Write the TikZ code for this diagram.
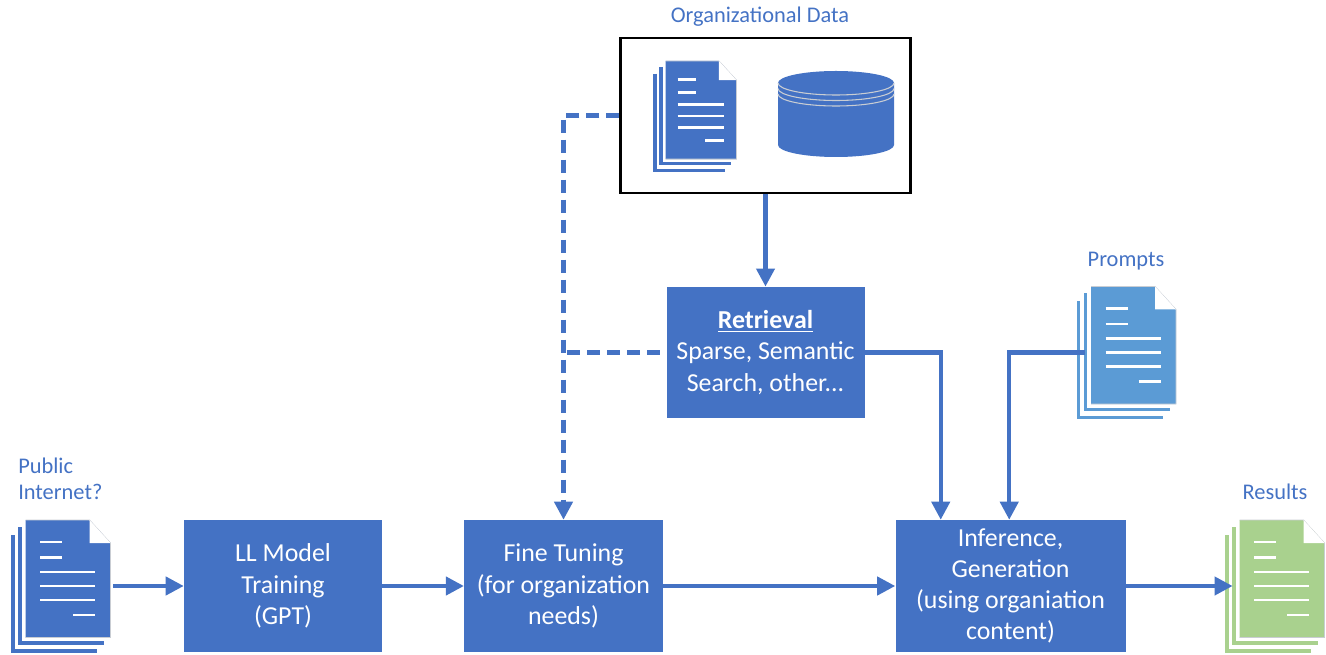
\documentclass[tikz,border=0pt]{standalone}
\usepackage{fontspec}
\setmainfont{Carlito}
\usetikzlibrary{arrows.meta,positioning}

\definecolor{boxblue}{HTML}{4472C4}
\definecolor{promptblue}{HTML}{5B9BD5}
\definecolor{resultgreen}{HTML}{A9D18E}
\definecolor{pageedge}{HTML}{C9CDD3}

\tikzset{
  flowbox/.style={fill=boxblue,text=white,align=center,inner sep=0pt,
    font=\fontsize{19.4}{23.4}\selectfont,
    execute at begin node={\rule{0pt}{16pt}}},
  caption/.style={text=boxblue,inner sep=0pt,font=\fontsize{16.8}{19.5}\selectfont},
  flow/.style={draw=boxblue,line width=3.1pt,-{Triangle[length=13.5pt,width=13.5pt]}},
  flowdash/.style={draw=boxblue,line width=3.1pt,dash pattern=on 10pt off 5pt},
  sheet/.style={line width=2.4pt},
  textline/.style={draw=white,line width=2pt}
}

% name, left, top, scale, colour
\newcommand{\docicon}[5]{
  \begin{scope}[shift={(#2,#3)},scale=#4]
    \draw[sheet,#5] (-5.5,7) -- (-5.5,123) -- (78.5,123);
    \draw[sheet,#5] (-12.5,15) -- (-12.5,131) -- (71.5,131);
    \fill[#5] (0,0) -- (64,0) -- (85,23) -- (85,117.5) -- (0,117.5) -- cycle;
    \draw[pageedge,line width=.6pt] (0,117.5) -- (85,117.5) -- (85,23) -- (64,0) -- (0,0);
    \fill[white] (64,0) -- (85,23) -- (64,23) -- cycle;
    \draw[textline] (14.5,22) -- (36.5,22);
    \draw[textline] (14.5,37.5) -- (36.5,37.5);
    \draw[textline] (14.5,52) -- (69.5,52);
    \draw[textline] (14.5,66) -- (69.5,66);
    \draw[textline] (14.5,80) -- (69.5,80);
    \draw[textline] (47.5,95) -- (69.5,95);
    \node[inner sep=0pt,minimum width={#4*63.75pt},minimum height={#4*88.1pt}] (#1) at (42.5,66) {};
  \end{scope}
}

\begin{document}
\begin{tikzpicture}[x=0.75pt,y=-0.75pt]
  \useasboundingbox (0,0) rectangle (1326,655);

  \node[draw=black,line width=1.6pt,minimum width=217.5pt,minimum height=116pt,inner sep=0pt] (orgbox) at (765.5,115.5) {};
  \docicon{orgdoc}{665.5}{61}{0.835}{boxblue}

  % database
  \fill[boxblue] (778,83) arc[start angle=180,end angle=0,x radius=58,y radius=12]
    -- (894,145) arc[start angle=0,end angle=180,x radius=58,y radius=12] -- cycle;
  \fill[boxblue] (836,83) ellipse[x radius=58,y radius=12];
  \draw[pageedge,line width=.8pt] (778,83) arc[start angle=180,end angle=0,x radius=58,y radius=12];
  \draw[pageedge,line width=.8pt] (778,88.5) arc[start angle=180,end angle=0,x radius=58,y radius=12];
  \draw[pageedge,line width=.8pt] (778,94) arc[start angle=180,end angle=0,x radius=58,y radius=12];

  \docicon{pubdoc}{25.5}{520}{1}{boxblue}
  \docicon{promptdoc}{1091}{286.5}{1}{promptblue}
  \docicon{resultdoc}{1239.5}{520}{1}{resultgreen}

  \node[flowbox,minimum width=148.5pt,minimum height=98.5pt] (retrieval) at (765.5,352.5)
    {\underline{\textbf{Retrieval}}\\Sparse, Semantic\\Search, other...};
  \node[flowbox,minimum width=148.5pt,minimum height=99pt] (llm) at (283,586)
    {LL Model\\Training\\(GPT)};
  \node[flowbox,minimum width=149pt,minimum height=99pt] (fine) at (563.5,586)
    {Fine Tuning\\(for organization\\needs)};
  \node[flowbox,minimum width=172.5pt,minimum height=99pt] (infer) at (1010.5,586)
    {Inference,\\Generation\\(using organiation\\content)};

  \node[caption] (orgcap) at (760,17) {Organizational Data};
  \node[caption,align=left,anchor=west] (pubcap) at (18,479) {Public\\Internet?};
  \node[caption] (promptcap) at (1126,261) {Prompts};
  \node[caption] (resultcap) at (1275,492) {Results};

  \draw[flow,shorten <=2pt] (pubdoc.east) -- (llm.west);
  \draw[flow] (llm.east) -- (fine.west);
  \draw[flow] (fine.east) -- (infer.west);
  \draw[flow,shorten >=5pt] (infer.east) -- (resultdoc.west);
  \draw[flow] (orgbox.south) -- (retrieval.north);
  \draw[flow] (retrieval.east) -| ([xshift=45.5*0.75pt]infer.north west);
  \draw[flow,shorten <=4.5pt] (promptdoc.west) -| ([xshift=114*0.75pt]infer.north west);

  \coordinate (dashend) at (567,352.5);
  \draw[flowdash] (orgbox.west) -| ([yshift=14pt]fine.north);
  \draw[flow] ([yshift=14pt]fine.north) -- (fine.north);
  \draw[flowdash] (dashend) -- (retrieval.west);

\end{tikzpicture}
\end{document}
